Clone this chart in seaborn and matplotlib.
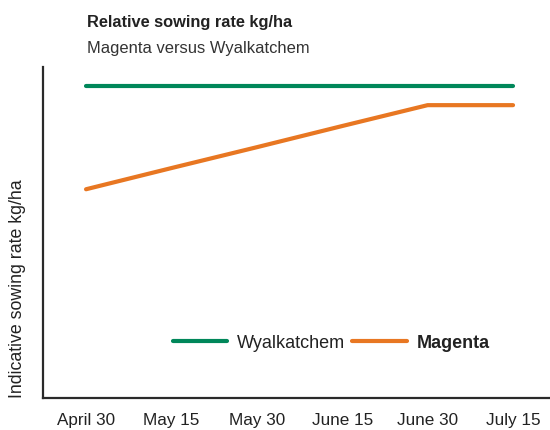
import matplotlib
matplotlib.use("Agg")
import matplotlib.pyplot as plt
import seaborn as sns
import pandas as pd

dates = ["April 30", "May 15", "May 30", "June 15", "June 30", "July 15"]
wyalkatchem = [94.3, 94.3, 94.3, 94.3, 94.3, 94.3]
magenta = [63.1, 69.5, 75.8, 82.2, 88.5, 88.5]
series_names = ["Wyalkatchem", "Magenta"]
colors = {"Wyalkatchem": "#00875A", "Magenta": "#E87722"}

sns.set_style("white")
plt.rcParams["font.family"] = ["Liberation Sans", "DejaVu Sans"]

df = pd.DataFrame({
    "pos": list(range(len(dates))) * 2,
    "value": wyalkatchem + magenta,
    "series": [series_names[0]] * len(dates) + [series_names[1]] * len(dates),
})

fig = plt.figure(figsize=(5.5, 4.3), dpi=100)
ax = fig.add_axes([0.078, 0.074, 0.92, 0.770])

sns.lineplot(data=df, x="pos", y="value", hue="series", palette=colors,
             linewidth=3.0, ax=ax, solid_capstyle="round", legend=True)

ax.set_xlim(-0.505, 5.42)
ax.set_ylim(0, 100)
ax.set_xticks(range(len(dates)))
ax.set_xticklabels(dates, fontsize=12.3, color="#222222")
ax.tick_params(axis="x", length=0, pad=11)
ax.set_yticks([])
ax.set_xlabel("")
ax.set_ylabel("Indicative sowing rate kg/ha", fontsize=12.8, color="#222222", loc="bottom")
ax.yaxis.set_label_coords(-0.034, 0.0)

for s in ["top", "right"]:
    ax.spines[s].set_visible(False)
for s in ["left", "bottom"]:
    ax.spines[s].set_color("#2a2a2a")
    ax.spines[s].set_linewidth(1.6)

leg = ax.legend(loc="center", bbox_to_anchor=(0.57, 0.166), ncol=2, frameon=False,
                handlelength=3.0, handletextpad=0.55, columnspacing=0.4,
                fontsize=13)
for t in leg.get_texts():
    t.set_color("#222222")
    if t.get_text() == "Magenta":
        t.set_fontweight("bold")
for line in leg.get_lines():
    line.set_linewidth(3.0)
    line.set_solid_capstyle("round")

fig.text(87 / 550, 1 - 22 / 430, "Relative sowing rate kg/ha", fontsize=11.8,
         fontweight="bold", color="#222222", va="center", ha="left")
fig.text(87 / 550, 1 - 48 / 430, "Magenta versus Wyalkatchem", fontsize=11.9,
         color="#333333", va="center", ha="left")

fig.savefig("out.png", dpi=100)
